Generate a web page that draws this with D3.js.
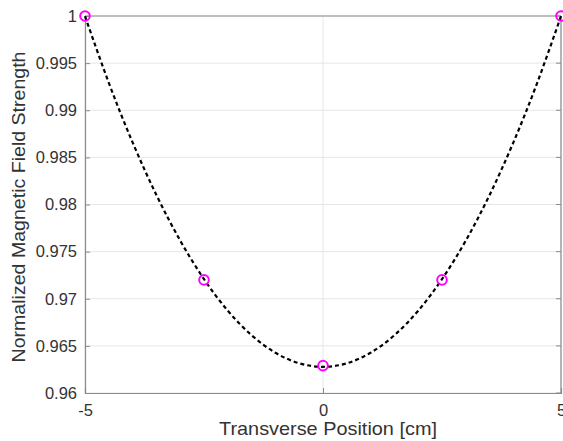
<!DOCTYPE html>
<html><head><meta charset="utf-8">
<script src="https://cdn.jsdelivr.net/npm/d3@7"></script>
<style>body{margin:0;background:#fff;} svg{display:block;}</style>
</head><body>
<script>
// Measured points
const pointX = [-5, -2.5, 0, 2.5, 5];
const pointY = [1.0, 0.972, 0.9629, 0.972, 1.0];
// Fitted curve
const curveX = [-5, -4.5, -4, -3.5, -3, -2.5, -2, -1.5, -1, -0.5, 0, 0.5, 1, 1.5, 2, 2.5, 3, 3.5, 4, 4.5, 5];
const curveY = [0.99998, 0.99291, 0.98659, 0.98101, 0.97617, 0.97208, 0.96873, 0.96613, 0.96427, 0.96315, 0.96278,
                0.96315, 0.96427, 0.96613, 0.96873, 0.97208, 0.97617, 0.98101, 0.98659, 0.99291, 0.99998];
const xTicks = [-5, 0, 5];
const xTickLabels = ["-5", "0", "5"];
const yTicks = [0.96, 0.965, 0.97, 0.975, 0.98, 0.985, 0.99, 0.995, 1];
const yTickLabels = ["0.96", "0.965", "0.97", "0.975", "0.98", "0.985", "0.99", "0.995", "1"];

const W = 563, H = 441;
const L = 85, R = 561, T = 16, B = 393;
const svg = d3.select("body").append("svg").attr("width", W).attr("height", H);
const x = d3.scaleLinear().domain([-5, 5]).range([L, R]);
const y = d3.scaleLinear().domain([0.96, 1]).range([B, T]);
const font = "'Liberation Sans', Arial, Helvetica, sans-serif";
const txt = "#333";

// grid
const g = svg.append("g");
g.selectAll(".gy").data(yTicks).enter().append("line")
  .attr("x1", L).attr("x2", R).attr("y1", d => y(d)).attr("y2", d => y(d))
  .attr("stroke", "#e6e6e6").attr("stroke-width", 1);
g.selectAll(".gx").data(xTicks).enter().append("line")
  .attr("y1", T).attr("y2", B).attr("x1", d => x(d)).attr("x2", d => x(d))
  .attr("stroke", "#e6e6e6").attr("stroke-width", 1);

// axes
const xAxis = d3.axisBottom(x).tickValues(xTicks).tickSize(-5).tickPadding(11).tickFormat((d, i) => xTickLabels[i]);
const yAxis = d3.axisLeft(y).tickValues(yTicks).tickSize(-5).tickPadding(8).tickFormat((d, i) => yTickLabels[i]);
const gx = svg.append("g").attr("transform", `translate(0,${B})`).call(xAxis);
const gy = svg.append("g").attr("transform", `translate(${L},0)`).call(yAxis);
[gx, gy].forEach(a => {
  a.select(".domain").attr("stroke", "#8a8a8a").attr("stroke-width", 1.2);
  a.selectAll(".tick line").attr("stroke", "#8a8a8a");
  a.selectAll("text").attr("font-family", font).attr("font-size", 16.5).attr("fill", txt);
});
// top and right box lines
svg.append("line").attr("x1", L).attr("x2", R).attr("y1", T).attr("y2", T).attr("stroke", "#8a8a8a").attr("stroke-width", 1.2);
svg.append("line").attr("x1", R).attr("x2", R).attr("y1", T).attr("y2", B).attr("stroke", "#8a8a8a").attr("stroke-width", 1.2);
svg.append("g").selectAll("line").data(yTicks).enter().append("line")
  .attr("x1", R - 5).attr("x2", R).attr("y1", d => y(d)).attr("y2", d => y(d)).attr("stroke", "#8a8a8a");

// curve
const curveData = curveX.map((d, i) => [d, curveY[i]]);
svg.append("path").datum(curveData)
  .attr("d", d3.line().x(d => x(d[0])).y(d => y(d[1])).curve(d3.curveNatural))
  .attr("fill", "none").attr("stroke", "#000").attr("stroke-width", 2.2)
  .attr("stroke-dasharray", "4,3");

// markers
svg.append("g").selectAll("circle").data(pointX.map((d, i) => [d, pointY[i]])).enter().append("circle")
  .attr("cx", d => x(d[0])).attr("cy", d => y(d[1])).attr("r", 4.8)
  .attr("fill", "none").attr("stroke", "#ff00ff").attr("stroke-width", 2);

// labels
svg.append("text").attr("x", 328).attr("y", 435).attr("text-anchor", "middle")
  .attr("font-family", font).attr("font-size", 19).attr("fill", txt)
  .attr("textLength", 218).attr("lengthAdjust", "spacingAndGlyphs").text("Transverse Position [cm]");
svg.append("text").attr("transform", `translate(25,207) rotate(-90)`).attr("text-anchor", "middle")
  .attr("font-family", font).attr("font-size", 17.6).attr("fill", txt)
  .attr("textLength", 311).attr("lengthAdjust", "spacingAndGlyphs").text("Normalized Magnetic Field Strength");
</script>
</body></html>
